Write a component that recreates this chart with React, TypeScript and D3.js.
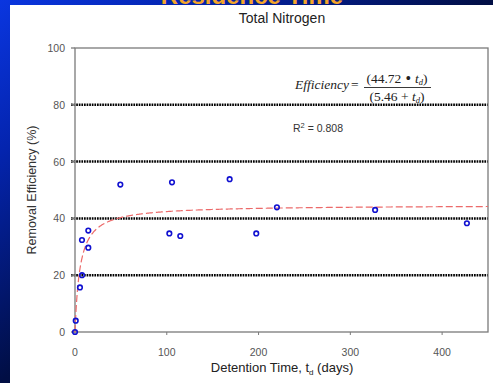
import * as d3 from 'd3';

const DETENTION_DAYS = [0, 0.8, 5.4, 7.6, 7.6, 14.5, 14.5, 49.4, 102.8, 105.7, 114.7, 168.5, 197.5, 220, 327, 427];
const REMOVAL_PCT = [0, 4, 15.7, 20, 32.4, 35.7, 29.7, 51.9, 34.7, 52.7, 33.8, 53.8, 34.7, 43.9, 43, 38.3];
const X_TICKS = [0, 100, 200, 300, 400];
const Y_TICKS = [0, 20, 40, 60, 80, 100];
const GRID = [20, 40, 60, 80];
const FIT_A = 44.72;
const FIT_B = 5.46;

export default function App() {
  const W = 493;
  const H = 383;
  const m = { left: 75, top: 48, right: 488, bottom: 332 };

  const x = d3.scaleLinear().domain([0, 450]).range([m.left, m.right]);
  const y = d3.scaleLinear().domain([0, 100]).range([m.bottom, m.top]);

  const fitPts = d3.range(0, 450.5, 0.5).map(t => [t, (FIT_A * t) / (FIT_B + t)] as [number, number]);
  const fitLine = d3.line<[number, number]>().x(d => x(d[0])).y(d => y(d[1]));

  const gray = '#7a7a7a';
  const sans = 'Arial, "Liberation Sans", sans-serif';
  const serif = '"Times New Roman", "Liberation Serif", serif';

  return (
    <svg width={W} height={H} style={{ position: 'fixed', left: 0, top: 0 }}>
      <defs>
        <linearGradient id="bg" x1="0" y1="0" x2="0.5" y2="0.5">
          <stop offset="0" stopColor="#0a36e0" />
          <stop offset="0.4" stopColor="#0424ae" />
          <stop offset="1" stopColor="#010e44" />
        </linearGradient>
      </defs>
      <rect x={0} y={0} width={W} height={H} fill="url(#bg)" />
      {/* slide heading, mostly cropped off above the panel */}
      <text x={252} y={4} textAnchor="middle" fontFamily={sans} fontWeight={700} fontSize={24} fill="#f4a52a">
        Residence Time
      </text>
      <rect x={10} y={5} width={W - 10} height={H - 5} fill="#fff" />

      <text x={282} y={23} textAnchor="middle" fontFamily={sans} fontSize={14} fill="#222">Total Nitrogen</text>

      {GRID.map(g => (
        <line key={g} x1={m.left - 4} x2={m.right} y1={y(g)} y2={y(g)} stroke="#000" strokeWidth={2.5} strokeDasharray="1.7 0.9" />
      ))}

      <rect x={m.left} y={m.top} width={m.right - m.left} height={m.bottom - m.top} fill="none" stroke={gray} strokeWidth={1.3} />

      {Y_TICKS.map(t => (
        <g key={t}>
          <line x1={m.left - 4} x2={m.left} y1={y(t)} y2={y(t)} stroke={gray} strokeWidth={1.3} />
          <text x={m.left - 10} y={y(t)} textAnchor="end" dominantBaseline="central" fontFamily={sans} fontSize={10.5} fill="#555">{t}</text>
        </g>
      ))}
      {X_TICKS.map(t => (
        <g key={t}>
          <line x1={x(t)} x2={x(t)} y1={m.bottom} y2={m.bottom + 3} stroke={gray} strokeWidth={1} />
          <text x={x(t)} y={356} textAnchor="middle" fontFamily={sans} fontSize={10.5} fill="#555">{t}</text>
        </g>
      ))}

      <path d={fitLine(fitPts) ?? ''} fill="none" stroke="#ec6a6a" strokeWidth={1.2} strokeDasharray="7 3" />

      {DETENTION_DAYS.map((t, i) => (
        <circle key={i} cx={x(t)} cy={y(REMOVAL_PCT[i])} r={2.3} fill="none" stroke="#1010d0" strokeWidth={1.6} />
      ))}

      <text transform={`translate(36,${(m.top + m.bottom) / 2}) rotate(-90)`} textAnchor="middle" fontFamily={sans} fontSize={12.5} fill="#333">
        Removal Efficiency (%)
      </text>
      <text x={282} y={372} textAnchor="middle" fontFamily={sans} fontSize={13} fill="#222">
        Detention Time, t<tspan fontSize={8} dy={3}>d</tspan><tspan dy={-3}> (days)</tspan>
      </text>

      <g fontFamily={serif} fontSize={13.5} fill="#222">
        <text x={349} y={89} textAnchor="end"><tspan fontStyle="italic">Efficiency</tspan></text>
        <text x={351} y={89}>=</text>
        <text x={397} y={83} textAnchor="middle">
          (44.72<tspan fontSize={16} dy={1}> • </tspan><tspan dy={-1} fontStyle="italic">t</tspan><tspan fontStyle="italic" fontSize={8.5} dy={2}>d</tspan><tspan dy={-2}>)</tspan>
        </text>
        <line x1={364} x2={431} y1={87.5} y2={87.5} stroke="#222" strokeWidth={0.9} />
        <text x={397} y={101} textAnchor="middle">
          (5.46 + <tspan fontStyle="italic">t</tspan><tspan fontStyle="italic" fontSize={8.5} dy={2}>d</tspan><tspan dy={-2}>)</tspan>
        </text>
      </g>
      <text x={318} y={132} textAnchor="middle" fontFamily={sans} fontSize={10.5} fill="#333">
        R<tspan fontSize={7.5} dy={-4}>2</tspan><tspan dy={4}> = 0.808</tspan>
      </text>
    </svg>
  );
}
